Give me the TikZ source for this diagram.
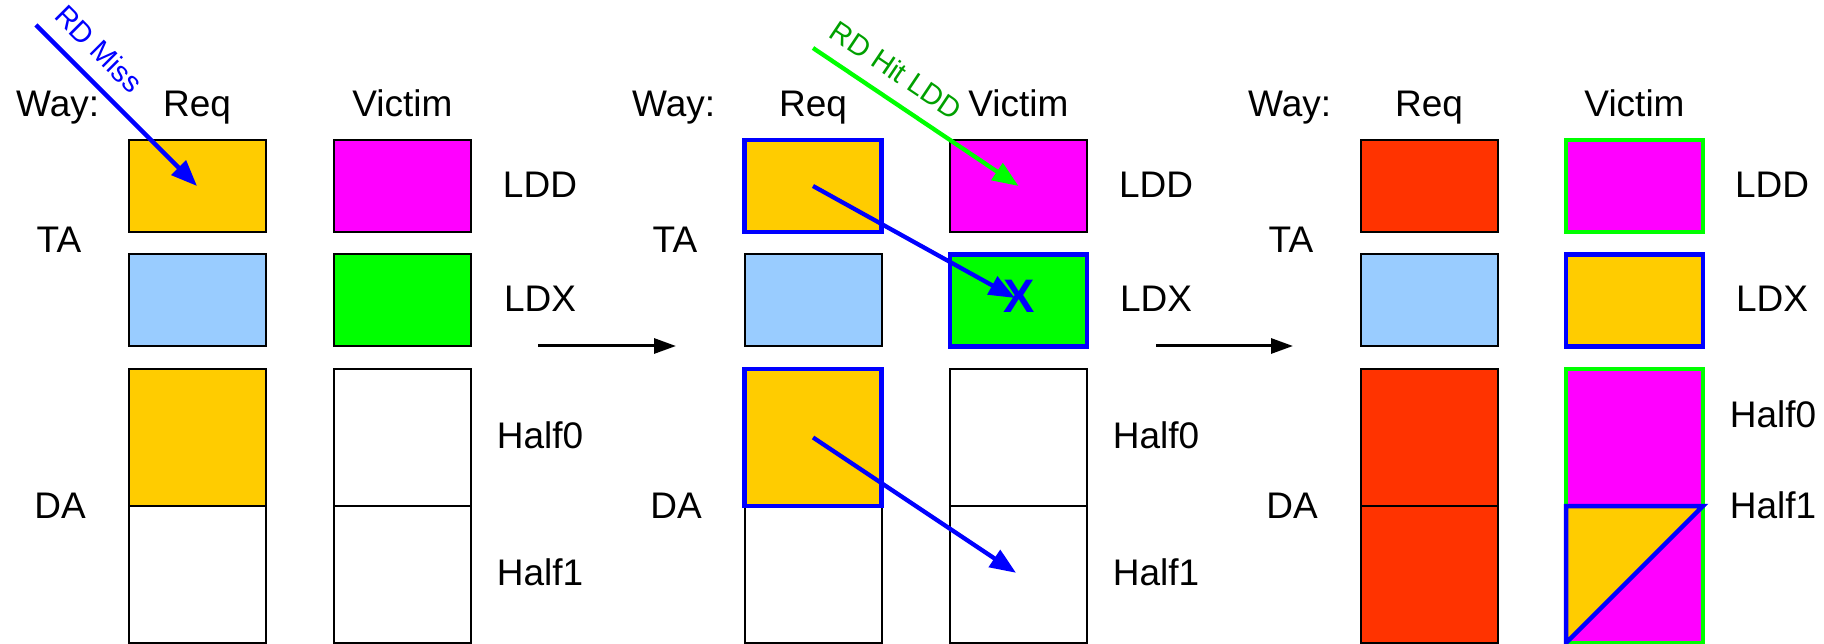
\documentclass[tikz,border=0pt]{standalone}
\usepackage{fontspec}
\setmainfont{Liberation Sans}
\usetikzlibrary{arrows.meta}
\definecolor{cyel}{HTML}{FFCC00}
\definecolor{cblu}{HTML}{99CCFF}
\definecolor{cmag}{HTML}{FF00FF}
\definecolor{cgrn}{HTML}{00FF00}
\definecolor{cred}{HTML}{FF3300}
\definecolor{cbl}{HTML}{0000FF}
\definecolor{ctxtg}{HTML}{00A000}
\begin{document}
\begin{tikzpicture}[x=1pt,y=-1pt,
  cell/.style={draw=black, line width=2pt, minimum width=137pt, minimum height=92pt, inner sep=0pt, outer sep=0pt, anchor=center},
  half/.style={cell, minimum height=137pt},
  lbl/.style={font=\fontsize{37}{44}\selectfont, inner sep=0pt, anchor=base},
  small/.style={font=\fontsize{29}{34}\selectfont, inner sep=0pt},
  hl/.style={draw=cbl, line width=4.5pt},
  hg/.style={draw=cgrn, line width=4.5pt},
  flow/.style={line width=4.3pt, -{Triangle[length=26pt,width=20pt]}},
  nextarr/.style={draw=black, line width=3pt, -{Triangle[length=22pt,width=15pt]}}
]
\useasboundingbox (0,0) rectangle (1824,644);

% ---------- common labels ----------
\foreach \i/\dx in {1/0,2/616,3/1232} {
  \node[lbl, anchor=base west] (way\i) at (16+\dx,117) {Way:};
  \node[lbl] (reqh\i) at (197+\dx,117) {Req};
  \node[lbl] (vich\i) at (402.5+\dx,117) {Victim};
  \node[lbl] (ta\i) at (59+\dx,253) {TA};
  \node[lbl] (da\i) at (60+\dx,518) {DA};
  \node[lbl] (ldd\i) at (540+\dx,198) {LDD};
  \node[lbl] (ldx\i) at (540+\dx,312) {LDX};
}
\node[lbl] (h0a) at (540,448) {Half0};
\node[lbl] (h1a) at (540,585) {Half1};
\node[lbl] (h0b) at (1156,448) {Half0};
\node[lbl] (h1b) at (1156,585) {Half1};
\node[lbl] (h0c) at (1773,427) {Half0};
\node[lbl] (h1c) at (1773,518) {Half1};

% ---------- panel 1 ----------
\node[cell, fill=cyel] (p1r1) at (197,186) {};
\node[cell, fill=cblu] (p1r2) at (197,300.5) {};
\node[half, fill=cyel] (p1r3) at (197,437.5) {};
\node[half, fill=white] (p1r4) at (197,574.5) {};
\node[cell, fill=cmag] (p1v1) at (402.5,186) {};
\node[cell, fill=cgrn] (p1v2) at (402.5,300.5) {};
\node[half, fill=white] (p1v3) at (402.5,437.5) {};
\node[half, fill=white] (p1v4) at (402.5,574.5) {};

\coordinate (missS) at (36,25);
\draw[flow, draw=cbl] (missS) -- node[small, text=cbl, sloped, above=15pt, pos=0.27] (misslbl) {RD Miss} (p1r1.center);

% ---------- transition arrows ----------
\coordinate (t1a) at (538,346);
\coordinate (t1b) at (676,346);
\coordinate (t2a) at (1156,346);
\coordinate (t2b) at (1293,346);
\draw[nextarr] (t1a) -- (t1b);
\draw[nextarr] (t2a) -- (t2b);

% ---------- panel 2 ----------
\node[cell, fill=cyel, hl] (p2r1) at (813,186) {};
\node[cell, fill=cblu] (p2r2) at (813,300.5) {};
\node[half, fill=white] (p2r4) at (813,574.5) {};
\node[half, fill=cyel, hl] (p2r3) at (813,437.5) {};
\node[cell, fill=cmag] (p2v1) at (1018.5,186) {};
\node[cell, fill=cgrn, hl] (p2v2) at (1018.5,300.5) {};
\node[half, fill=white] (p2v3) at (1018.5,437.5) {};
\node[half, fill=white] (p2v4) at (1018.5,574.5) {};

\node[font=\fontsize{47}{50}\selectfont\bfseries, text=cbl, inner sep=0pt] (p2x) at (1019.5,296.5) {X};
\coordinate (xtip) at (1015,298);
\draw[flow, draw=cbl] (p2r1.center) -- (xtip);
\draw[flow, draw=cbl, shorten >=3pt] (p2r3.center) -- (p2v4.center);

\coordinate (hitS) at (813,48);
\draw[flow, draw=cgrn] (hitS) -- node[small, text=ctxtg, sloped, above=15pt, pos=0.33] (hitlbl) {RD Hit LDD} (p2v1.center);

% ---------- panel 3 ----------
\node[cell, fill=cred] (p3r1) at (1429,186) {};
\node[cell, fill=cblu] (p3r2) at (1429,300.5) {};
\node[half, fill=cred] (p3r3) at (1429,437.5) {};
\node[half, fill=cred] (p3r4) at (1429,574.5) {};
\node[cell, fill=cmag, hg] (p3v1) at (1634.5,186) {};
\node[cell, fill=cyel, hl] (p3v2) at (1634.5,300.5) {};
\node[half, fill=cmag, draw=none] (p3v3) at (1634.5,437.5) {};
\node[half, fill=cmag, draw=none] (p3v4) at (1634.5,574.5) {};
\draw[hg] (p3v3.north west) rectangle (p3v4.south east);
\filldraw[fill=cyel, draw=cbl, line width=4.5pt] (p3v4.north west) -- (p3v4.north east) -- (p3v4.south west) -- cycle;
\end{tikzpicture}
\end{document}
